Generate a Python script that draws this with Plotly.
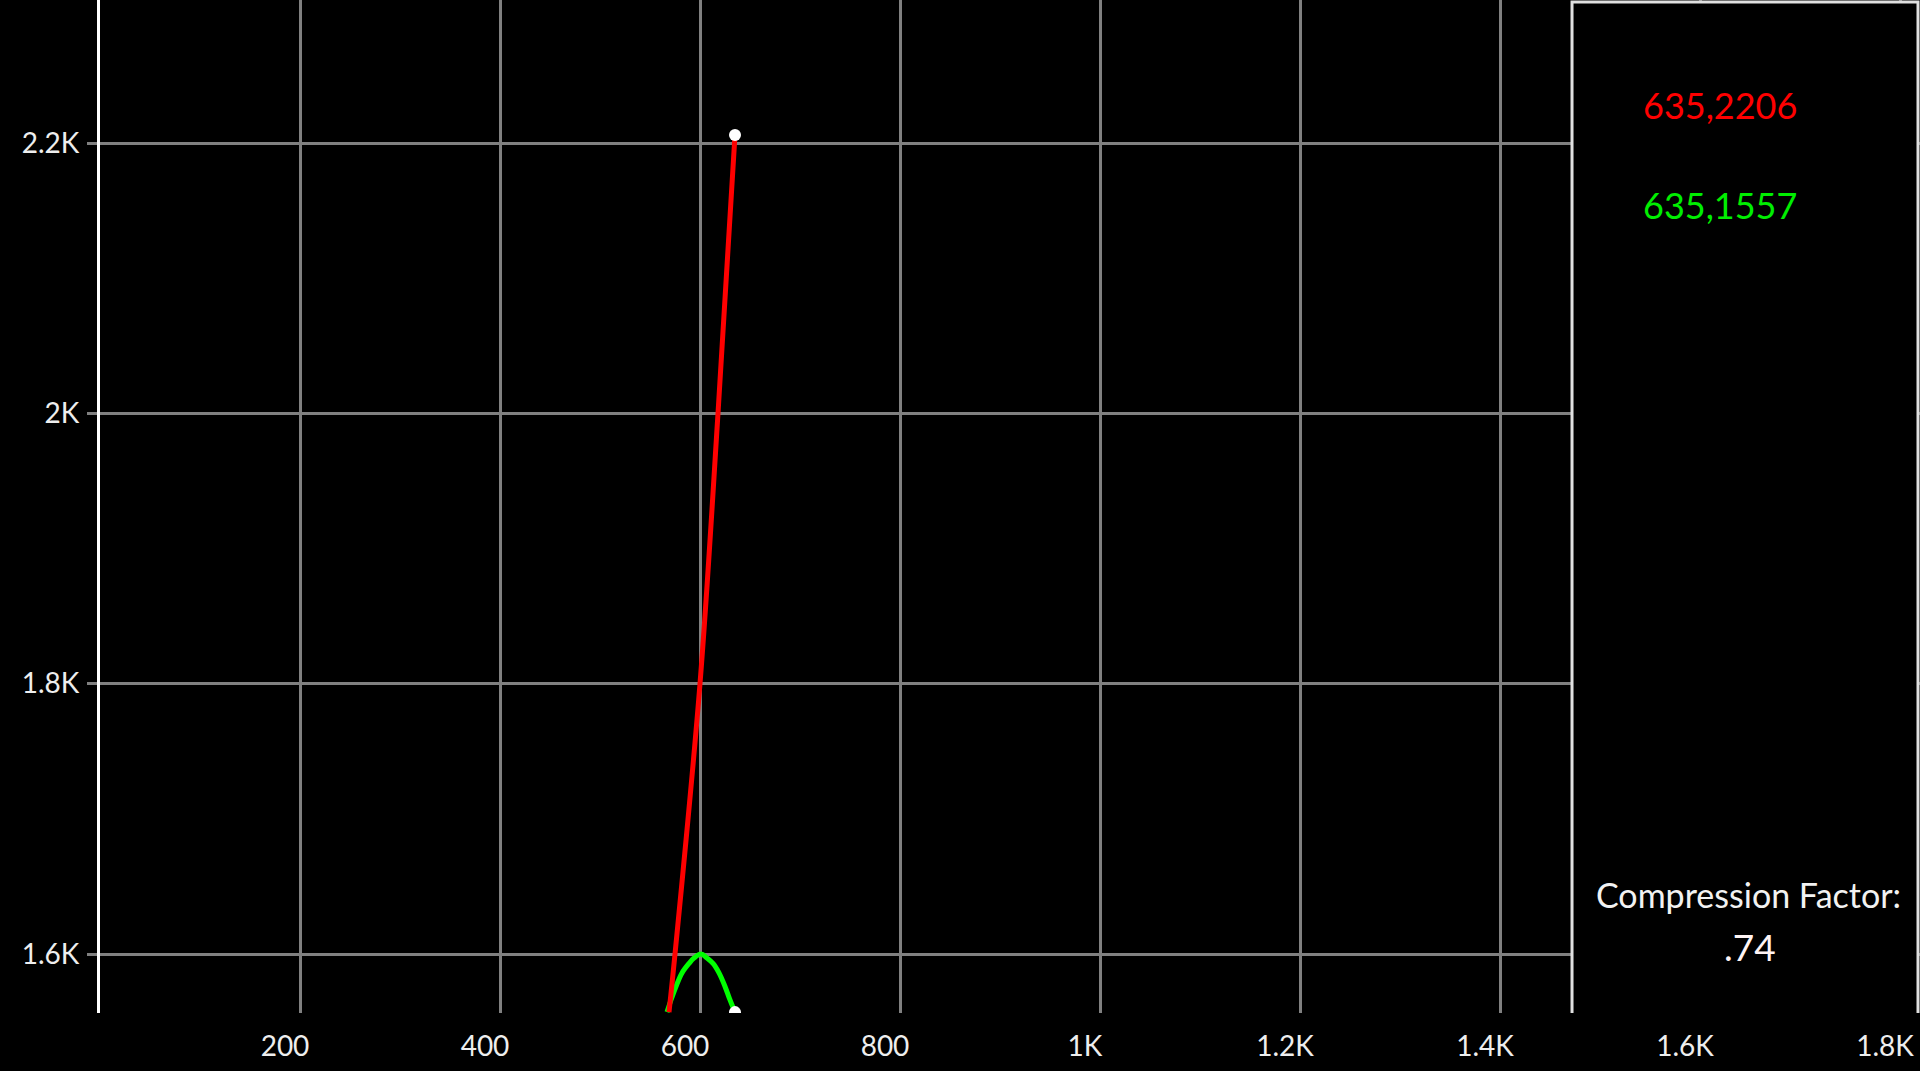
import plotly.graph_objects as go

# ---- data ----
red_x = [569, 575, 600, 618, 635]
red_y = [1557, 1600, 1800, 2000, 2206]

green_x = [567, 571, 576, 582, 589, 594, 601, 607, 613, 619, 625, 630, 635]
green_y = [1557, 1566, 1576, 1586, 1593, 1597, 1600, 1597, 1593, 1586, 1576, 1566, 1557]

end_x = [635, 635]
end_y = [2206, 1557]

x_ticks = [200, 400, 600, 800, 1000, 1200, 1400, 1600, 1800]
x_ticktext = ["200", "400", "600", "800", "1K", "1.2K", "1.4K", "1.6K", "1.8K"]
y_ticks = [1600, 1800, 2000, 2200]
y_ticktext = ["1.6K", "1.8K", "2K", "2.2K"]

red_label = "635,2206"
green_label = "635,1557"
factor_title = "Compression Factor:"
factor_value = ".74"

FONT = "Lato"

fig = go.Figure()
fig.add_trace(go.Scatter(x=green_x, y=green_y, mode="lines",
                         line=dict(color="#00ff00", width=5, shape="spline"),
                         hoverinfo="skip", showlegend=False))
fig.add_trace(go.Scatter(x=red_x, y=red_y, mode="lines",
                         line=dict(color="#ff0000", width=5, shape="spline"),
                         hoverinfo="skip", showlegend=False))
fig.add_trace(go.Scatter(x=end_x, y=end_y, mode="markers",
                         marker=dict(color="white", size=12),
                         hoverinfo="skip", showlegend=False))

# right-hand info panel
px0, px1, ptop = 0.8088, 0.9989, 0.998
fig.add_shape(type="rect", xref="paper", yref="paper", x0=px0, x1=px1, y0=0, y1=ptop,
              fillcolor="black", line=dict(width=0), layer="above")
fig.add_shape(type="path", xref="paper", yref="paper",
              path=f"M {px0},0 L {px0},{ptop} L {px1},{ptop} L {px1},0",
              line=dict(color="#e0e0e0", width=3), layer="above")

ann = dict(xref="paper", yref="paper", showarrow=False, xanchor="center", yanchor="middle")
fig.add_annotation(text=red_label, x=0.8901, y=0.8963,
                   font=dict(family=FONT, size=36, color="#ff0000"), **ann)
fig.add_annotation(text=green_label, x=0.8901, y=0.7976,
                   font=dict(family=FONT, size=36, color="#00ee00"), **ann)
fig.add_annotation(text=factor_title, x=0.9055, y=0.1165,
                   font=dict(family=FONT, size=34, color="#f2f2f2"), **ann)
fig.add_annotation(text=factor_value, x=0.9066, y=0.0661,
                   font=dict(family=FONT, size=37, color="#fff4f4"), **ann)

fig.update_layout(
    width=1920, height=1071,
    margin=dict(l=100, r=0, t=0, b=58),
    paper_bgcolor="black", plot_bgcolor="black",
    font=dict(family=FONT, color="#eeeeee"),
    xaxis=dict(range=[0, 1820], tickvals=x_ticks, ticktext=x_ticktext,
               showgrid=True, gridcolor="#808080", gridwidth=3,
               zeroline=False, showline=False, ticks="",
               tickfont=dict(family=FONT, size=28, color="#eeeeee"),
               ticklabelshift=-15, ticklabelstandoff=14),
    yaxis=dict(range=[1556.35, 2305.8], tickvals=y_ticks, ticktext=y_ticktext,
               showgrid=True, gridcolor="#808080", gridwidth=3,
               zeroline=False, showline=True, linecolor="white", linewidth=3,
               ticks="outside", ticklen=10, tickwidth=3, tickcolor="#808080",
               tickfont=dict(family=FONT, size=28, color="#eeeeee"),
               ticklabelstandoff=2),
)

fig.write_html("out.html", config={"displayModeBar": False},
               post_script="document.body.style.margin='0';document.body.style.overflow='hidden';")
